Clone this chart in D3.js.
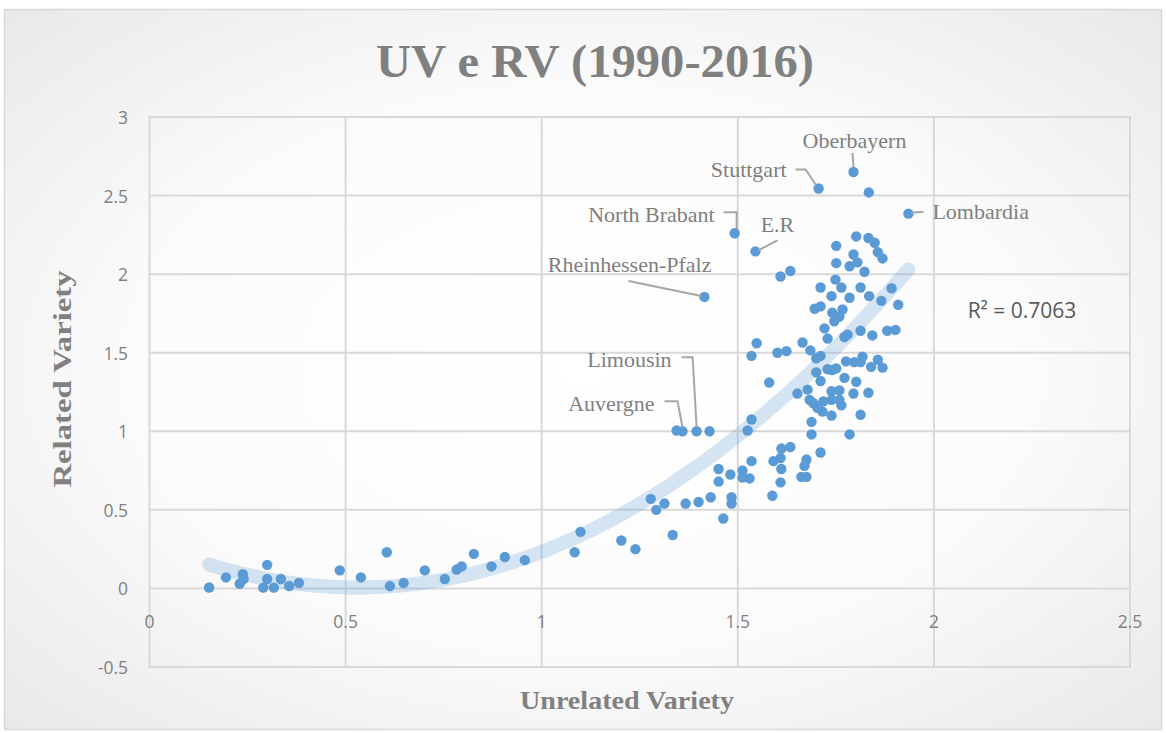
<!DOCTYPE html>
<html>
<head>
<meta charset="utf-8">
<script src="https://cdn.jsdelivr.net/npm/d3@7"></script>
<style>
  html, body { margin: 0; padding: 0; background: #fff; }
  svg { display: block; }
</style>
</head>
<body>
<svg id="chart"></svg>
<script>
// regions: unrelated variety (x) and related variety (y)
const uv = [
  0.152, 0.195, 0.23, 0.238, 0.24, 0.30, 0.30, 0.29, 0.317, 0.335, 0.356, 0.381,
  0.485, 0.539, 0.605, 0.613, 0.648, 0.702, 0.753, 0.783, 0.796, 0.827, 0.872, 0.906,
  0.957, 1.084, 1.099, 1.203, 1.239, 1.334, 1.278, 1.292, 1.313, 1.367, 1.40, 1.431,
  1.463, 1.484, 1.484, 1.451, 1.451, 1.481, 1.512, 1.512, 1.530, 1.535, 1.525, 1.535,
  1.344, 1.428, 1.58, 1.652, 1.588, 1.591, 1.611, 1.634, 1.609, 1.611, 1.609, 1.675,
  1.67, 1.662, 1.675, 1.688, 1.688, 1.711,
  1.802, 1.833, 1.849, 1.857, 1.869, 1.751, 1.751, 1.795, 1.805, 1.785, 1.823, 1.634,
  1.609, 1.749, 1.764, 1.711, 1.813, 1.739, 1.785, 1.835, 1.892, 1.866, 1.909, 1.696,
  1.711, 1.741, 1.767, 1.759, 1.746, 1.721, 1.729, 1.772, 1.78, 1.813, 1.843, 1.881,
  1.902, 1.665, 1.601, 1.624, 1.685, 1.70, 1.711, 1.729, 1.741, 1.751, 1.70, 1.711,
  1.772, 1.776, 1.797, 1.813, 1.818, 1.84, 1.857, 1.869, 1.802, 1.678, 1.739, 1.759,
  1.795, 1.833, 1.683, 1.692, 1.718, 1.739, 1.759, 1.703, 1.716, 1.764, 1.739, 1.813,
  1.785, 1.834, 1.548, 1.535
];
const rv = [
  0.006, 0.07, 0.03, 0.09, 0.06, 0.15, 0.06, 0.005, 0.005, 0.06, 0.015, 0.035,
  0.115, 0.07, 0.23, 0.015, 0.035, 0.115, 0.06, 0.12, 0.14, 0.22, 0.14, 0.20,
  0.18, 0.23, 0.36, 0.305, 0.25, 0.34, 0.57, 0.50, 0.54, 0.54, 0.55, 0.58,
  0.445, 0.58, 0.54, 0.76, 0.68, 0.725, 0.75, 0.705, 0.70, 0.81, 1.005, 1.075,
  1.005, 1.0, 1.31, 1.24, 0.59, 0.81, 0.89, 0.90, 0.83, 0.76, 0.675, 0.82,
  0.78, 0.71, 0.71, 1.06, 0.98, 0.865,
  2.24, 2.23, 2.20, 2.14, 2.10, 2.18, 2.07, 2.125, 2.075, 2.05, 2.015, 2.02,
  1.985, 1.965, 1.915, 1.915, 1.915, 1.86, 1.85, 1.86, 1.91, 1.83, 1.805, 1.78,
  1.795, 1.755, 1.775, 1.73, 1.70, 1.655, 1.59, 1.60, 1.615, 1.64, 1.61, 1.64,
  1.645, 1.565, 1.50, 1.51, 1.515, 1.465, 1.48, 1.395, 1.39, 1.40, 1.375, 1.32,
  1.34, 1.445, 1.44, 1.44, 1.475, 1.41, 1.455, 1.405, 1.315, 1.265, 1.255, 1.26,
  1.24, 1.245, 1.20, 1.18, 1.19, 1.20, 1.20, 1.15, 1.125, 1.165, 1.10, 1.105,
  0.98, 2.52, 1.56, 1.48
];

// named regions
const labelNames = ['Oberbayern', 'Stuttgart', 'Lombardia', 'North Brabant', 'E.R',
                    'Rheinhessen-Pfalz', 'Limousin', 'Auvergne'];
const labelUV = [1.795, 1.706, 1.935, 1.492, 1.545, 1.415, 1.395, 1.359];
const labelRV = [2.65, 2.545, 2.385, 2.26, 2.145, 1.855, 1.0, 1.0];

const xTicks = [0, 0.5, 1, 1.5, 2, 2.5];
const yTicks = [-0.5, 0, 0.5, 1, 1.5, 2, 2.5, 3];
const r2Text = 'R² = 0.7063';

// label placement relative to its point (pixels)
const labelLayout = {
  'Oberbayern':        { anchor: 'middle', dx: 1,   dy: -32, path: [[-1, -19], [0, -5]] },
  'Stuttgart':         { anchor: 'end',    dx: -32, dy: -19, path: [[-23, -19], [-13, -19], [-3, -4]] },
  'Lombardia':         { anchor: 'start',  dx: 24,  dy: -2,  path: [[3, -1], [15, -2]] },
  'North Brabant':     { anchor: 'end',    dx: -20, dy: -19, path: [[-11, -21], [2, -21], [2, -4]] },
  'E.R':               { anchor: 'middle', dx: 22,  dy: -27, path: [[22, -11], [3, -1]] },
  'Rheinhessen-Pfalz': { anchor: 'end',    dx: 7,   dy: -32, path: [[-76, -16], [-3, -1]] },
  'Limousin':          { anchor: 'end',    dx: -25, dy: -72, path: [[-15, -74], [-4, -74], [0, -4]] },
  'Auvergne':          { anchor: 'end',    dx: -28, dy: -28, path: [[-18, -30], [-5, -30], [0, -4]] }
};

const width = 1166, height = 733;
const points = uv.map((d, i) => ({ x: d, y: rv[i] }))
  .concat(labelUV.map((d, i) => ({ x: d, y: labelRV[i], name: labelNames[i] })));

const x = d3.scaleLinear().domain([0, 2.5]).range([149.5, 1130]);
const y = d3.scaleLinear().domain([-0.5, 3]).range([667, 117]);

const svg = d3.select('#chart').attr('width', width).attr('height', height);

let grad = svg.append('defs').append('radialGradient')
  .attr('id', 'bg').attr('cx', '50%').attr('cy', '50%').attr('r', '70%');
grad.append('stop').attr('offset', '0%').attr('stop-color', '#ffffff');
grad.append('stop').attr('offset', '55%').attr('stop-color', '#fbfbfb');
grad.append('stop').attr('offset', '100%').attr('stop-color', '#e9e9e9');

svg.append('rect').attr('width', width).attr('height', height).attr('fill', '#fff');
svg.append('rect')
  .attr('x', 4.5).attr('y', 9.5).attr('width', 1157).attr('height', 720)
  .attr('fill', 'url(#bg)').attr('stroke', '#d9d9d9').attr('stroke-width', 1.5);

const serif = '"Liberation Serif", "Times New Roman", serif';
const tickFont = '"Open Sans", "Liberation Sans", sans-serif';

// title
svg.append('text')
  .attr('x', 595).attr('y', 77)
  .attr('text-anchor', 'middle')
  .style('font-family', serif)
  .style('font-weight', 'bold').style('font-size', '46px')
  .attr('textLength', 438).attr('lengthAdjust', 'spacingAndGlyphs')
  .attr('fill', '#808080')
  .text('UV e RV (1990-2016)');

// grid
let grid = svg.append('g').attr('class', 'grid');
grid.selectAll('line.v').data(xTicks).enter().append('line')
  .attr('x1', d => x(d)).attr('x2', d => x(d))
  .attr('y1', y(3)).attr('y2', y(-0.5))
  .attr('stroke', '#d9d9d9').attr('stroke-width', 2);
grid.selectAll('line.h').data(yTicks).enter().append('line')
  .attr('x1', x(0) - 1).attr('x2', x(2.5) + 1)
  .attr('y1', d => y(d)).attr('y2', d => y(d))
  .attr('stroke', '#d9d9d9').attr('stroke-width', 2);

// tick labels
svg.append('g').selectAll('text').data(xTicks).enter().append('text')
  .attr('x', d => x(d)).attr('y', 621)
  .attr('text-anchor', 'middle').attr('dominant-baseline', 'central')
  .style('font-family', tickFont).style('font-size', '17.5px')
  .attr('fill', '#7f7f7f')
  .text(d => d);
svg.append('g').selectAll('text').data(yTicks).enter().append('text')
  .attr('x', 128).attr('y', d => y(d))
  .attr('text-anchor', 'end').attr('dominant-baseline', 'central')
  .style('font-family', tickFont).style('font-size', '17.5px')
  .attr('fill', '#7f7f7f')
  .text(d => d);

// axis titles
svg.append('text')
  .attr('x', 627).attr('y', 709)
  .attr('text-anchor', 'middle')
  .style('font-family', serif)
  .style('font-weight', 'bold').style('font-size', '25px')
  .attr('textLength', 214).attr('lengthAdjust', 'spacingAndGlyphs')
  .attr('fill', '#808080')
  .text('Unrelated Variety');
svg.append('text')
  .attr('transform', 'translate(71,379) rotate(-90)')
  .attr('text-anchor', 'middle')
  .style('font-family', serif)
  .style('font-weight', 'bold').style('font-size', '25px')
  .attr('textLength', 217).attr('lengthAdjust', 'spacingAndGlyphs')
  .attr('fill', '#808080')
  .text('Related Variety');

// polynomial (order 2) trendline, least squares on all points
function quadFit(pts) {
  let s = [0, 0, 0, 0, 0], t = [0, 0, 0];
  pts.forEach(p => {
    let xp = 1;
    for (let k = 0; k < 5; k++) { s[k] += xp; if (k < 3) t[k] += xp * p.y; xp *= p.x; }
  });
  const m = [[s[0], s[1], s[2], t[0]], [s[1], s[2], s[3], t[1]], [s[2], s[3], s[4], t[2]]];
  for (let i = 0; i < 3; i++) {
    for (let j = i + 1; j < 3; j++) {
      const f = m[j][i] / m[i][i];
      for (let k = i; k < 4; k++) m[j][k] -= f * m[i][k];
    }
  }
  const c = [0, 0, 0];
  for (let i = 2; i >= 0; i--) {
    let v = m[i][3];
    for (let k = i + 1; k < 3; k++) v -= m[i][k] * c[k];
    c[i] = v / m[i][i];
  }
  return c;
}
const coef = quadFit(points);
const xExtent = d3.extent(points, d => d.x);
const trend = d3.range(0, 101).map(i => {
  const xv = xExtent[0] + (xExtent[1] - xExtent[0]) * i / 100;
  return { x: xv, y: coef[0] + coef[1] * xv + coef[2] * xv * xv };
});
svg.append('path')
  .datum(trend)
  .attr('d', d3.line().x(d => x(d.x)).y(d => y(d.y)))
  .attr('fill', 'none')
  .attr('stroke', 'rgba(91,155,213,0.25)')
  .attr('stroke-width', 14)
  .attr('stroke-linecap', 'round');

// points
svg.append('g').selectAll('circle').data(points).enter().append('circle')
  .attr('cx', d => x(d.x)).attr('cy', d => y(d.y))
  .attr('r', 5.2)
  .attr('fill', '#5b9bd5');

// annotations
let ann = svg.append('g').attr('class', 'labels');
points.filter(d => d.name).forEach(d => {
  const l = labelLayout[d.name];
  const px = x(d.x), py = y(d.y);
  ann.append('path')
    .attr('d', d3.line()(l.path.map(p => [px + p[0], py + p[1]])))
    .attr('fill', 'none').attr('stroke', '#a6a6a6').attr('stroke-width', 2);
  ann.append('text')
    .attr('x', px + l.dx).attr('y', py + l.dy)
    .attr('text-anchor', l.anchor).attr('dominant-baseline', 'central')
    .style('font-family', serif)
    .style('font-size', '22px')
    .attr('fill', '#7f7f7f')
    .text(d.name);
});

// R squared
svg.append('text')
  .attr('x', 1022).attr('y', 310)
  .attr('text-anchor', 'middle').attr('dominant-baseline', 'central')
  .style('font-family', tickFont).style('font-size', '21px')
  .attr('fill', '#595959')
  .text(r2Text);
</script>
</body>
</html>
